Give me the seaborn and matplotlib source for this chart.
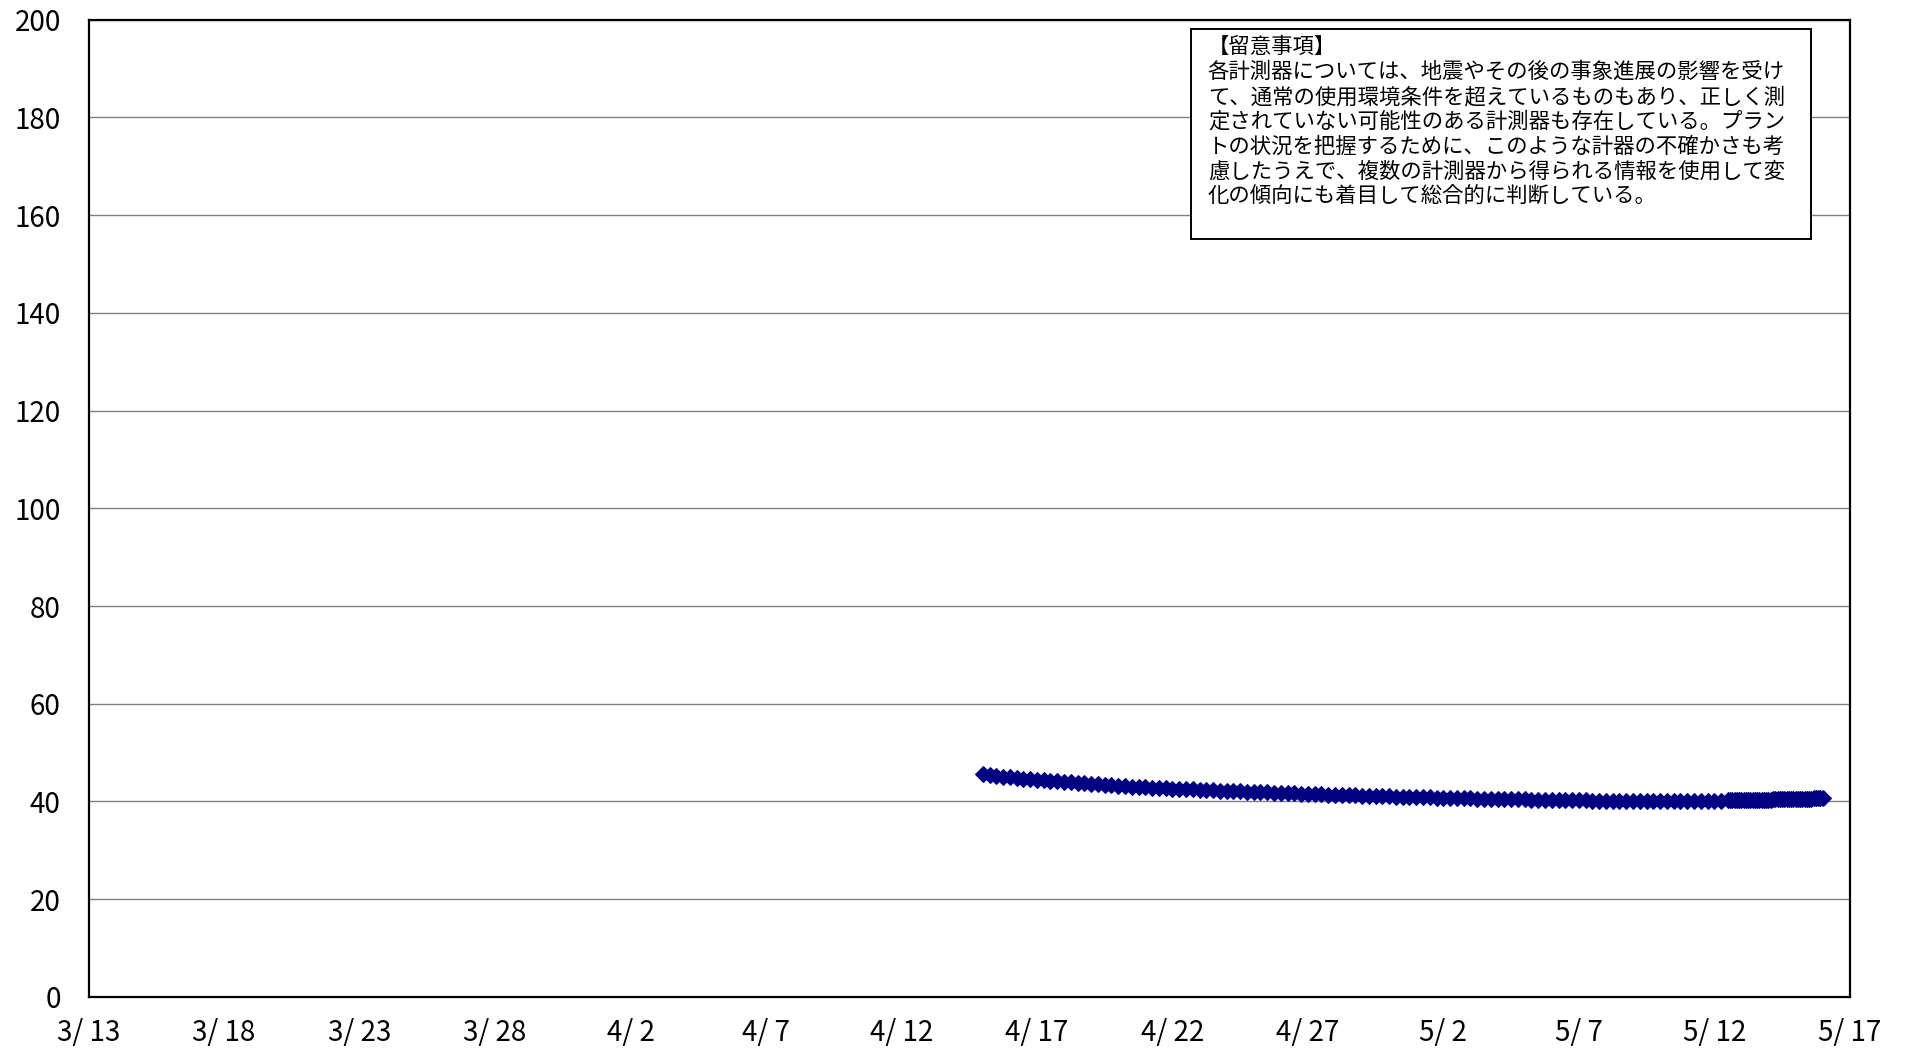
import matplotlib
matplotlib.use("Agg")
import matplotlib.pyplot as plt
import matplotlib.patches as mpatches
import matplotlib.dates as mdates
import seaborn as sns
import pandas as pd
import numpy as np

# ---- data ----
# 6-hourly readings from 2011-04-15 00:00
vals_6h = [
    45.6, 45.4, 45.3, 45.1,   # 4/15
    45.0, 44.8, 44.7, 44.6,   # 4/16
    44.5, 44.4, 44.2, 44.1,   # 4/17
    44.0, 43.9, 43.8, 43.7,   # 4/18
    43.6, 43.5, 43.4, 43.3,   # 4/19
    43.2, 43.1, 43.0, 43.0,   # 4/20
    42.9, 42.8, 42.8, 42.7,   # 4/21
    42.6, 42.6, 42.5, 42.5,   # 4/22
    42.4, 42.3, 42.3, 42.2,   # 4/23
    42.2, 42.1, 42.1, 42.0,   # 4/24
    42.0, 41.9, 41.9, 41.8,   # 4/25
    41.8, 41.7, 41.7, 41.6,   # 4/26
    41.6, 41.5, 41.5, 41.4,   # 4/27
    41.4, 41.4, 41.3, 41.3,   # 4/28
    41.2, 41.2, 41.2, 41.1,   # 4/29
    41.1, 41.0, 41.0, 41.0,   # 4/30
    40.9, 40.9, 40.9, 40.8,   # 5/1
    40.8, 40.8, 40.7, 40.7,   # 5/2
    40.7, 40.6, 40.6, 40.6,   # 5/3
    40.6, 40.5, 40.5, 40.5,   # 5/4
    40.5, 40.4, 40.4, 40.4,   # 5/5
    40.4, 40.3, 40.3, 40.3,   # 5/6
    40.3, 40.3, 40.2, 40.2,   # 5/7
    40.2, 40.2, 40.2, 40.2,   # 5/8
    40.1, 40.1, 40.1, 40.1,   # 5/9
    40.1, 40.1, 40.1, 40.1,   # 5/10
    40.1, 40.2, 40.2, 40.2,   # 5/11
    40.2, 40.2, 40.3,         # 5/12 00-12h
]
start_6h = "2011-04-15 00:00"

# 2-hourly readings from 2011-05-12 14:00
vals_2h = [
    40.3, 40.3, 40.3, 40.3, 40.3,                                       # 5/12
    40.3, 40.3, 40.3, 40.4, 40.4, 40.4, 40.4, 40.4, 40.4, 40.4, 40.4, 40.4,  # 5/13
    40.4, 40.4, 40.5, 40.5, 40.5, 40.5, 40.5, 40.5, 40.5, 40.5, 40.5, 40.5,  # 5/14
    40.5, 40.6, 40.6, 40.6, 40.6, 40.6, 40.6, 40.6, 40.7, 40.7, 40.7, 40.7,  # 5/15
    40.7,                                                               # 5/16
]
start_2h = "2011-05-12 14:00"

x_start = "2011-03-13"
x_end = "2011-05-17"
y_ticks = [0, 20, 40, 60, 80, 100, 120, 140, 160, 180, 200]

note_title = "【留意事項】"
note_lines = [
    "各計測器については、地震やその後の事象進展の影響を受け",
    "て、通常の使用環境条件を超えているものもあり、正しく測",
    "定されていない可能性のある計測器も存在している。プラン",
    "トの状況を把握するために、このような計器の不確かさも考",
    "慮したうえで、複数の計測器から得られる情報を使用して変",
    "化の傾向にも着目して総合的に判断している。",
]

# ---- build frame ----
t1 = pd.date_range(start_6h, periods=len(vals_6h), freq="6h")
t2 = pd.date_range(start_2h, periods=len(vals_2h), freq="2h")
df = pd.DataFrame({"time": list(t1) + list(t2), "value": vals_6h + vals_2h})

sns.set_theme(style="white")
plt.rcParams["font.family"] = ["Noto Sans CJK JP", "DejaVu Sans"]

fig = plt.figure(figsize=(19.06, 10.51), dpi=100)
ax = fig.add_axes([0.0465, 0.0514, 0.924, 0.930])

sns.lineplot(data=df, x="time", y="value", ax=ax, color="#000080",
             marker="D", markersize=7.8, markeredgecolor="#000080",
             linestyle="", linewidth=0, zorder=3)

ax.set_xlim(pd.Timestamp(x_start), pd.Timestamp(x_end))
ax.set_ylim(0, 200)

xt = pd.date_range(x_start, x_end, freq="5D")
ax.set_xticks(mdates.date2num(xt))
ax.set_xticklabels([f"{d.month}/ {d.day}" for d in xt], fontsize=20)
ax.set_yticks(y_ticks)
ax.set_yticklabels([str(v) for v in y_ticks], fontsize=20)

ax.tick_params(axis="x", direction="in", length=6, width=1, pad=15, colors="black")
ax.tick_params(axis="y", direction="in", length=6, width=1, pad=20, colors="black")
ax.grid(axis="y", color="#808080", linewidth=1.0)
ax.grid(axis="x", visible=False)
ax.set_axisbelow(True)
for s in ax.spines.values():
    s.set_color("black")
    s.set_linewidth(1.6)
ax.set_xlabel("")
ax.set_ylabel("")
ax.set_facecolor("white")

# note box
box = mpatches.Rectangle((0.626, 0.775), 0.352, 0.215, transform=ax.transAxes,
                         facecolor="white", edgecolor="black", linewidth=1.4, zorder=4)
ax.add_patch(box)
ax.text(0.6355, 0.983, "\n".join([note_title] + note_lines), transform=ax.transAxes,
        ha="left", va="top", fontsize=15.4, linespacing=1.17, color="black", zorder=5)

fig.savefig("out.png", dpi=100)
